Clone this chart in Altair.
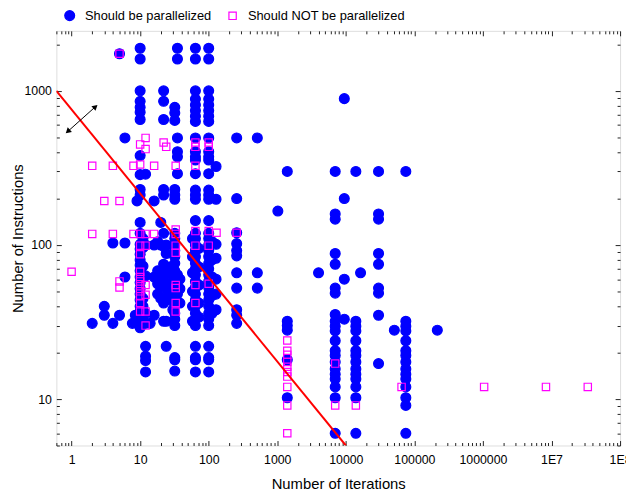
import altair as alt
import pandas as pd

GROUPS = ["Should be parallelized", "Should NOT be parallelized"]

# iterations -> list of instruction counts (blue filled circles)
PAR_COLUMNS = {
    2: [31],
    3: [40, 35],
    4: [103, 31],
    5: [1740, 35],
    6: [495, 103, 62],
    7.7: [31],
    8.5: [35],
    9: [193, 31],
    10: [1890, 1610, 1000, 855, 782, 726, 652, 380, 286, 229, 211, 140, 119, 101, 94, 87,
         80, 74, 68, 62, 57, 52, 48, 44, 40, 37, 34, 31, 29],
    11: [110, 96, 73, 45, 40, 33],
    12: [288, 100, 63, 36, 31, 22, 19, 17.8, 15],
    14: [31],
    16: [193, 100, 62, 35],
    18: [105, 68, 56, 48],
    20: [140, 100, 63, 54, 45],
    22: [1000, 855, 652, 229, 211, 119, 98, 75, 58, 42, 32],
    24: [100, 88, 66, 52, 46, 32, 22],
    27: [72, 56, 44],
    30: [60, 48, 38],
    32: [782, 719, 643, 229, 211, 198, 119, 110, 100, 92, 84, 76, 68, 62, 56, 50, 45, 40,
         36, 33, 30, 18.6, 18, 15.2],
    35: [1890, 1610, 495, 403, 373, 290, 64, 58, 48],
    38: [60, 52, 42],
    58: [110, 84, 66, 50, 40, 32],
    64: [1890, 1610, 1000, 884, 809, 745, 685, 633, 495, 403, 373, 356, 290, 227, 211, 198,
         144, 119, 110, 100, 92, 84, 76, 70, 64, 58, 53, 48, 44, 40, 36, 33, 30, 22, 18.6, 18, 15],
    72: [95, 72, 55, 42, 34],
    100: [1890, 1610, 1000, 884, 809, 745, 685, 633, 495, 403, 373, 356, 290, 227, 211, 198,
          144, 119, 110, 100, 92, 84, 76, 70, 64, 58, 53, 48, 44, 40, 36, 33, 30, 22, 18.6, 18, 15],
    112: [105, 80, 62, 47, 36],
    128: [323, 198, 101, 82, 60, 48, 38],
    256: [495, 200, 120, 102, 92, 85, 66, 52.5, 38, 35, 31],
    512: [495, 66, 52.5],
    1020: [166],
    1400: [300, 32, 30, 28, 18, 10.2],
    4000: [66],
    7000: [300, 159, 147, 88, 75, 52.5, 48.7, 35.4, 32, 29.7, 27.7, 23.9, 20.6, 19.2, 17.4,
           15.7, 14.5, 13.5, 12, 10.2, 6],
    9500: [890, 200, 60, 33],
    14000: [300, 32, 29.7, 27.7, 23.9, 20.6, 19.2, 17.4, 15.7, 14.5, 13.5, 12, 10.2, 6],
    16400: [66],
    30000: [300, 159, 147, 88, 75, 52.5, 48.7, 35, 17],
    51000: [28],
    75000: [300, 32, 29.7, 27.7, 23.9, 20.6, 19.2, 17.4, 15.7, 14.5, 13.5, 12, 10.2, 9.1, 6],
    216000: [28],
}

# iterations -> list of instruction counts (magenta open squares)
NOPAR_COLUMNS = {
    1: [67],
    2: [326, 118],
    3: [193],
    4: [326, 118],
    5: [1740, 193, 58, 53],
    8: [326, 118],
    10: [449, 333, 118, 99, 87, 67, 62, 58, 54, 50, 46.5, 42, 37],
    12: [495, 419, 118, 99, 55, 47.5, 37, 30],
    16: [326, 118],
    22: [462],
    24: [433],
    33: [326, 126, 118, 99, 89, 55, 52.5, 42, 37],
    64: [462, 433, 326, 123, 99, 55, 42],
    100: [462, 433, 123, 99, 56],
    130: [120],
    256: [120],
    1400: [24, 20.6, 19.4, 17.4, 16.2, 15, 14, 12, 9.1, 6],
    7000: [17, 9.1],
    14000: [9.1],
    65000: [12],
    1040000: [12],
    8300000: [12],
    33800000: [12],
}

LINE_ITERS = [0.6, 10000]
LINE_INSTR = [1000, 5]

ARROW_ITERS = [0.9, 2.18]
ARROW_INSTR = [550, 782]
ARROW_ANGLE = [228, 48]

X_MAJOR = [1, 10, 100, 1000, 10000, 100000, 1000000, 10000000, 100000000]
X_MINOR = [m * 10 ** e for e in range(-1, 8) for m in range(2, 10) if 0.6 <= m * 10 ** e < 1e8]
Y_MAJOR = [10, 100, 1000]
Y_MINOR = [m * 10 ** e for e in range(0, 4) for m in range(2, 10) if 5 <= m * 10 ** e <= 2450]

rows = []
for it, vals in PAR_COLUMNS.items():
    for v in vals:
        rows.append({"iters": it, "instr": v, "group": GROUPS[0]})
for it, vals in NOPAR_COLUMNS.items():
    for v in vals:
        rows.append({"iters": it, "instr": v, "group": GROUPS[1]})
df = pd.DataFrame(rows)

line_df = pd.DataFrame({"iters": LINE_ITERS, "instr": LINE_INSTR})
arrow_df = pd.DataFrame({"iters": ARROW_ITERS, "instr": ARROW_INSTR, "angle": ARROW_ANGLE})

FONT = "Liberation Sans"
xs = alt.Scale(type="log", domain=[0.6, 1e8], nice=False)
ys = alt.Scale(type="log", domain=[5, 2450], nice=False)


def make_axis(orient, values, size, **kw):
    base = dict(orient=orient, values=values, tickSize=size, offset=-size, domain=False,
                grid=False, labels=False, tickColor="#222", tickWidth=1, title=None)
    base.update(kw)
    return alt.Axis(**base)


x_bottom = make_axis(
    "bottom", X_MAJOR, 5, labels=True, labelPadding=8, labelFont=FONT, labelFontSize=12.5,
    labelColor="#000", labelFlush=False, labelOverlap=False,
    labelExpr="datum.value >= 1e7 ? '1E' + format(log(datum.value) / LN10, '.0f') : format(datum.value, 'd')",
    title="Number of Iterations", titleFont=FONT, titleFontSize=15, titleFontWeight="normal",
    titleColor="#000", titlePadding=11)
y_left = make_axis(
    "left", Y_MAJOR, 5, labels=True, labelPadding=5, labelFont=FONT, labelFontSize=12.5,
    labelColor="#000", format="d", labelOverlap=False,
    title="Number of Instructions", titleFont=FONT, titleFontSize=15, titleFontWeight="normal",
    titleColor="#000", titlePadding=-2)

leg = alt.Legend(orient="none", legendX=7, legendY=-22, direction="horizontal", title=None,
                 labelFont=FONT, labelFontSize=13, labelColor="#000", labelOffset=9,
                 columnPadding=15, padding=0, symbolStrokeWidth=1.2)

points = alt.Chart(df).mark_point(filled=True, strokeWidth=1.2, opacity=1).encode(
    x=alt.X("iters:Q", scale=xs, axis=x_bottom),
    y=alt.Y("instr:Q", scale=ys, axis=y_left),
    shape=alt.Shape("group:N", scale=alt.Scale(domain=GROUPS, range=["circle", "square"]), legend=leg),
    fill=alt.Fill("group:N", scale=alt.Scale(domain=GROUPS, range=["#0000FF", "transparent"]), legend=leg),
    stroke=alt.Stroke("group:N", scale=alt.Scale(domain=GROUPS, range=["#0000FF", "#FF00FF"]), legend=leg),
    size=alt.Size("group:N", scale=alt.Scale(domain=GROUPS, range=[100, 55]), legend=leg),
)

red_line = alt.Chart(line_df).mark_line(color="#FF0000", strokeWidth=2, clip=True).encode(
    x=alt.X("iters:Q", scale=xs, axis=make_axis("bottom", X_MINOR, 3)),
    y=alt.Y("instr:Q", scale=ys, axis=make_axis("left", Y_MINOR, 3)),
)

arrow_shaft = alt.Chart(arrow_df).mark_line(color="#000", strokeWidth=1).encode(
    x=alt.X("iters:Q", scale=xs, axis=make_axis("top", X_MAJOR, 5)),
    y=alt.Y("instr:Q", scale=ys, axis=make_axis("right", Y_MAJOR, 5)),
)

arrow_heads = alt.Chart(arrow_df).mark_point(shape="triangle", filled=True, color="#000",
                                             size=40, opacity=1).encode(
    x=alt.X("iters:Q", scale=xs, axis=make_axis("top", X_MINOR, 3)),
    y=alt.Y("instr:Q", scale=ys, axis=make_axis("right", Y_MINOR, 3)),
    angle=alt.Angle("angle:Q", scale=None),
)

chart = alt.layer(points, red_line, arrow_shaft, arrow_heads).resolve_axis(
    x="independent", y="independent"
).properties(
    width=571, height=420,
    autosize=alt.AutoSizeParams(type="none"),
    padding={"left": 49, "top": 20, "right": 6, "bottom": 48},
).configure_view(stroke="#000", strokeWidth=1.2).configure(font=FONT)

chart.save("out.html", embed_options={"renderer": "svg", "actions": False})
